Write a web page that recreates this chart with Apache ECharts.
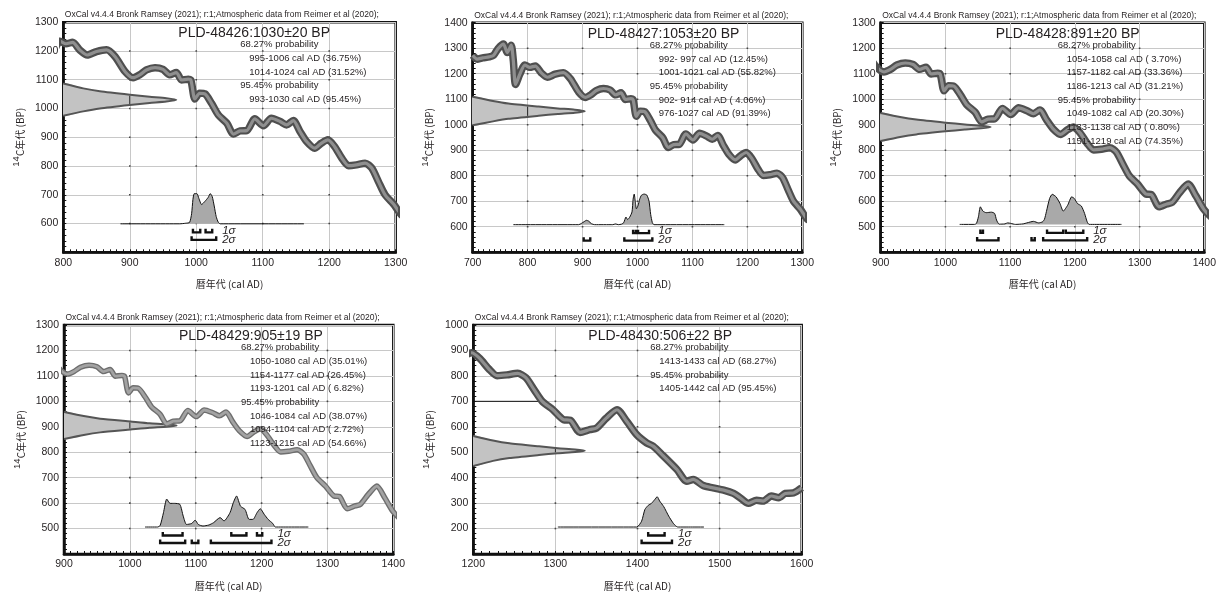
<!DOCTYPE html>
<html><head><meta charset="utf-8">
<script src="https://cdn.jsdelivr.net/npm/echarts@6/dist/echarts.min.js"></script>
<style>html,body{margin:0;padding:0;background:#fff}#c{width:1219px;height:592px}</style>
</head><body><div id="c"></div>
<script>
// ---- calibration curve (as plotted) ----
const calYears = [700,708,718,730,738,746,756,763,770,774,778,786,795,804,814,825,836,850,865,878,893,905,915,925,938,950,960,970,978,988,992,998,1005,1013,1023,1033,1046,1056,1066,1076,1088,1101,1113,1126,1136,1146,1156,1166,1178,1188,1198,1208,1219,1229,1241,1254,1264,1274,1284,1297,1310,1318,1330,1342,1350,1362,1375,1387,1399,1411,1419,1431,1448,1460,1468,1480,1492,1505,1517,1525,1535,1545,1553,1563,1572,1580,1590,1600];
const calBP = [1272,1257,1262,1266,1272,1298,1316,1283,1312,1250,1158,1199,1234,1225,1230,1203,1186,1198,1204,1180,1128,1107,1117,1134,1142,1136,1117,1125,1099,1102,1098,1033,1053,1051,1018,978,949,911,922,923,964,940,966,955,943,958,920,885,862,879,891,868,827,801,804,810,793,746,700,667,628,626,578,589,595,634,667,621,569,537,524,487,432,386,393,369,360,351,338,321,299,311,308,328,321,338,340,360];

// ---- samples ----
const sampleLabels = ['PLD-48426:1030\u00b120 BP','PLD-48427:1053\u00b120 BP','PLD-48428:891\u00b120 BP','PLD-48429:905\u00b119 BP','PLD-48430:506\u00b122 BP'];
const xExtents = [[800,1300],[700,1300],[900,1400],[900,1400],[1200,1600]];
const yExtents = [[500,1300],[500,1400],[400,1300],[400,1300],[100,1000]];
const caption = 'OxCal v4.4.4 Bronk Ramsey (2021); r:1;Atmospheric data from Reimer et al (2020);';

// 68.27% / 95.45% ranges: [from, to, percent]
const sigma1 = [
  [[995,1006,36.75],[1014,1024,31.52]],
  [[992,997,12.45],[1001,1021,55.82]],
  [[1054,1058,3.70],[1157,1182,33.36],[1186,1213,31.21]],
  [[1050,1080,35.01],[1154,1177,26.45],[1193,1201,6.82]],
  [[1413,1433,68.27]]
];
const sigma2 = [
  [[993,1030,95.45]],
  [[902,914,4.06],[976,1027,91.39]],
  [[1049,1082,20.30],[1133,1138,0.80],[1151,1219,74.35]],
  [[1046,1084,38.07],[1094,1104,2.72],[1123,1215,54.66]],
  [[1405,1442,95.45]]
];

// radiocarbon date distributions on the y axis: [BP, extent in years from left axis]
const dateDist1 = [[1087,0],[1070,30],[1060,55],[1048,100],[1041,130],[1036,155],[1030,170],[1024,155],[1019,130],[1012,100],[1000,55],[990,30],[975,0]];
const dateDist2 = [[1110,0],[1093,37],[1083,65],[1071,120],[1064,155],[1059,186],[1053,204],[1047,186],[1042,155],[1035,120],[1023,65],[1013,37],[998,0]];
const dateDist3 = [[946,0],[930,30],[920,55],[908,100],[901,130],[896,155],[891,170],[886,155],[881,130],[874,100],[862,55],[852,30],[836,0]];
const dateDist4 = [[958,0],[942,30],[932,55],[921,101],[914,130],[910,156],[905,171],[900,156],[896,130],[889,101],[878,55],[868,30],[852,0]];
const dateDist5 = [[564,0],[546,24],[535,44],[523,80],[516,103],[511,124],[506,136],[501,124],[496,103],[489,80],[477,44],[466,24],[446,0]];

// calibrated distributions: [cal AD, height above baseline (BP units)]
const calDist1 = [[886,0],[975,0],[984,2],[990,5],[993,35],[995,85],[997,105],[1001,105],[1004,88],[1008,67],[1013,78],[1018,92],[1021,105],[1024,95],[1027,62],[1030,25],[1033,6],[1036,0],[1162,0]];
const calDist2 = [[774,0],[893,0],[898,5],[903,12],[907,17],[911,14],[916,4],[922,0],[955,0],[960,3],[965,0],[971,2],[975,8],[979,30],[982,20],[986,30],[990,50],[992,100],[994,120],[996,90],[998,62],[1001,75],[1004,100],[1007,115],[1012,120],[1017,116],[1021,92],[1024,40],[1027,8],[1030,0],[1158,0]];
const calDist3 = [[1022,0],[1045,0],[1048,4],[1051,30],[1054,69],[1058,52],[1063,46],[1071,48],[1076,43],[1079,17],[1083,1],[1092,2],[1096,6],[1101,4],[1108,0],[1120,2],[1126,6],[1136,12],[1144,6],[1150,10],[1153,20],[1156,50],[1161,102],[1165,118],[1171,108],[1177,82],[1182,52],[1189,76],[1195,108],[1199,102],[1204,82],[1210,72],[1215,43],[1219,10],[1222,0],[1272,0]];
const calDist4 = [[1023,0],[1042,0],[1046,6],[1051,56],[1056,110],[1061,93],[1068,93],[1076,89],[1081,43],[1086,10],[1094,14],[1099,27],[1104,10],[1111,4],[1120,8],[1127,17],[1137,37],[1143,24],[1152,56],[1157,95],[1162,122],[1168,82],[1175,69],[1181,30],[1187,30],[1193,56],[1198,72],[1204,50],[1210,30],[1217,14],[1221,0],[1271,0]];
const calDist5 = [[1303,0],[1399,0],[1405,23],[1409,69],[1413,85],[1417,93],[1421,108],[1424,119],[1427,102],[1432,80],[1438,43],[1444,13],[1449,0],[1481,0]];
const calBaseline = [599,608,509,506,206];
const extraLine5 = [[1200,700],[1281,700]];

const dateDists = [dateDist1,dateDist2,dateDist3,dateDist4,dateDist5];
const calDists = [calDist1,calDist2,calDist3,calDist4,calDist5];

// ---- layout ----
const layout = [
  {left:63.3, top:22.2, width:332.4, height:230.1},
  {left:472.7, top:22.7, width:329.6, height:229.5},
  {left:880.7, top:22.7, width:330.3, height:229.5},
  {left:64, top:325, width:329.3, height:229.5},
  {left:473.3, top:325, width:328.4, height:229.5}
];
const TXT = '#231f20';
const FONT = 'Liberation Sans';

function pad(s, n){ s = String(s); while (s.length < n) s = ' ' + s; return s; }
function rangeText(r){ return r[0] + '-' + pad(r[1],4) + ' cal AD (' + pad(r[2].toFixed(2),5) + '%)'; }

const grids = [], xAxes = [], yAxes = [], series = [], graphics = [];
const curveData = calYears.map((y,i)=>[y, calBP[i]]);

layout.forEach((L, i) => {
  grids.push({left:L.left, top:L.top, width:L.width, height:L.height, show:true, borderColor:'#111', borderWidth:2.5, backgroundColor:'transparent'});
  xAxes.push({
    gridIndex:i, type:'value', min:xExtents[i][0], max:xExtents[i][1], interval:100,
    axisLine:{show:true, onZero:false, lineStyle:{color:'#111', width:2.5}},
    axisTick:{show:true, inside:true, length:3, lineStyle:{color:'#111', width:1}},
    minorTick:{show:true, splitNumber:10, length:3, lineStyle:{color:'#111', width:1}},
    splitLine:{show:true, lineStyle:{color:'#c8c8c8', width:1}},
    axisLabel:{margin:5, fontSize:10.5, color:TXT, fontFamily:FONT, formatter:v=>String(v)},
    name:'暦年代 (cal AD)', nameLocation:'middle', nameGap:27,
    nameTextStyle:{fontSize:10, color:TXT, fontFamily:'Noto Sans CJK JP'}
  });
  yAxes.push({
    gridIndex:i, type:'value', min:yExtents[i][0], max:yExtents[i][1], interval:100,
    axisLine:{show:true, onZero:false, lineStyle:{color:'#111', width:2.5}},
    axisTick:{show:true, inside:true, length:3, lineStyle:{color:'#111', width:1}},
    minorTick:{show:true, splitNumber:5, length:3, lineStyle:{color:'#111', width:1}},
    splitLine:{show:true, lineStyle:{color:'#c8c8c8', width:1}},
    axisLabel:{margin:5, fontSize:10.5, color:TXT, fontFamily:FONT, showMinLabel:false, formatter:v=>String(v)},
    name:'{s|14}{n|C年代 (BP)}', nameLocation:'middle', nameGap:38,
    nameTextStyle:{color:TXT, rich:{
      s:{fontSize:9.5, color:TXT, fontFamily:FONT, verticalAlign:'top', lineHeight:14},
      n:{fontSize:10, color:TXT, fontFamily:'Noto Sans CJK JP', verticalAlign:'bottom', lineHeight:14}
    }}
  });

  const xmin = xExtents[i][0], xmax = xExtents[i][1];
  const ymin = yExtents[i][0], ymax = yExtents[i][1];
  const dd = dateDists[i];
  // grid intersection dots + date distribution (horizontal) with dark gridlines through it
  series.push({
    type:'custom', xAxisIndex:i, yAxisIndex:i, z:2, clip:true, silent:true,
    data:[[xmin, ymin]],
    renderItem:function(params, api){
      const ch = [];
      for (let gx = xmin + 100; gx < xmax; gx += 100) {
        for (let gy = ymin + 100; gy < ymax; gy += 100) {
          const p = api.coord([gx, gy]);
          ch.push({type:'rect', shape:{x:p[0]-0.8, y:p[1]-0.8, width:1.6, height:1.6}, style:{fill:'#444'}});
        }
      }
      const pts = dd.map(p => api.coord([xmin + p[1], p[0]]));
      ch.push({type:'polygon', shape:{points:pts, smooth:0.2}, style:{fill:'#c3c3c3', stroke:'none'}});
      // vertical gridlines seen through the fill
      for (let gx = xmin + 100; gx < xmax; gx += 100) {
        const X = api.coord([gx, ymin])[0];
        let lo = Infinity, hi = -Infinity;
        for (let k = 0; k < pts.length - 1; k++) {
          const a = pts[k], b = pts[k+1];
          if ((a[0] - X) * (b[0] - X) <= 0 && a[0] !== b[0]) {
            const t = (X - a[0]) / (b[0] - a[0]);
            const Y = a[1] + t * (b[1] - a[1]);
            lo = Math.min(lo, Y); hi = Math.max(hi, Y);
          }
        }
        if (hi - lo > 2) ch.push({type:'line', shape:{x1:X, y1:lo+1, x2:X, y2:hi-1}, style:{stroke:'#222', lineWidth:1}});
      }
      ch.push({type:'polyline', shape:{points:pts, smooth:0.2}, style:{fill:'none', stroke:'#555', lineWidth:2}});
      return {type:'group', children:ch};
    }
  });
  // calibration curve
  const faint = (i === 3);
  series.push({type:'line', xAxisIndex:i, yAxisIndex:i, data:curveData, showSymbol:false, smooth:0.25, clip:true, silent:true, z:3,
    lineStyle:{color: faint ? '#6e6e6e' : '#4f4f4f', width: faint ? 5.5 : 7.5, join:'round'}});
  series.push({type:'line', xAxisIndex:i, yAxisIndex:i, data:curveData, showSymbol:false, smooth:0.25, clip:true, silent:true, z:4,
    lineStyle:{color: faint ? '#a3a3a3' : '#8f8f8f', width: faint ? 2.8 : 3.2, join:'round'}});
  // calibrated distribution
  const base = calBaseline[i];
  series.push({type:'line', xAxisIndex:i, yAxisIndex:i, data:calDists[i].map(p=>[p[0], base + p[1]]), showSymbol:false, smooth:0.2, clip:true, silent:true, z:5,
    lineStyle:{color:'#111', width:1}, areaStyle:{color:'#a9a9a9', opacity:1, origin:base}});
  // brackets + sigma labels
  const s1 = sigma1[i], s2 = sigma2[i];
  const maxEnd = Math.max.apply(null, s2.map(r=>r[1]));
  series.push({
    type:'custom', xAxisIndex:i, yAxisIndex:i, z:6, clip:false, silent:true,
    data:[[xmin, base]],
    renderItem:function(params, api){
      const by = api.coord([xmin, base])[1];
      const ch = [];
      function br(r, dy){
        const a = api.coord([r[0], base])[0], b = api.coord([r[1], base])[0];
        const y = by + dy;
        ch.push({type:'polyline', shape:{points:[[a, y-3.5],[a, y],[b, y],[b, y-3.5]]}, style:{fill:'none', stroke:'#111', lineWidth:2.4}});
      }
      s1.forEach(r=>br(r, 8.5));
      s2.forEach(r=>br(r, 16));
      const tx = api.coord([maxEnd, base])[0] + 6;
      ch.push({type:'text', x:tx, y:by+6.5, style:{text:'1\u03c3', font:'italic 11.5px "Liberation Sans"', fill:TXT, align:'left', verticalAlign:'middle', textAlign:'left', textVerticalAlign:'middle'}});
      ch.push({type:'text', x:tx, y:by+15.5, style:{text:'2\u03c3', font:'italic 11.5px "Liberation Sans"', fill:TXT, align:'left', verticalAlign:'middle', textAlign:'left', textVerticalAlign:'middle'}});
      return {type:'group', children:ch};
    }
  });
  if (i === 4) {
    series.push({type:'line', xAxisIndex:i, yAxisIndex:i, data:extraLine5, showSymbol:false, silent:true, z:2, lineStyle:{color:'#111', width:1}});
  }

  // texts
  function txt(x, y, s, font){
    graphics.push({type:'text', x:x, y:y, silent:true, z:100, zlevel:1,
      style:{text:s, font:font, fill:TXT, align:'left', verticalAlign:'middle', textAlign:'left', textVerticalAlign:'middle'}});
  }
  txt(L.left + 1.5, L.top - 7.5, caption, '8.5px "Liberation Sans"');
  txt(L.left + 115, L.top + 11, sampleLabels[i], '14px "Liberation Sans"');
  const lines = [];
  lines.push(['68.27% probability', 0]);
  s1.forEach(r => lines.push([rangeText(r), 1]));
  lines.push(['95.45% probability', 0]);
  s2.forEach(r => lines.push([rangeText(r), 1]));
  lines.forEach((ln, j) => txt(L.left + (ln[1] ? 186 : 177), L.top + 22.5 + j*13.7, ln[0], '9.5px "Liberation Sans"'));
});

const chart = echarts.init(document.getElementById('c'), null, {renderer:'canvas'});
chart.setOption({
  animation:false,
  backgroundColor:'#fff',
  grid:grids, xAxis:xAxes, yAxis:yAxes, series:series,
  graphic:{elements:graphics}
});
</script></body></html>
